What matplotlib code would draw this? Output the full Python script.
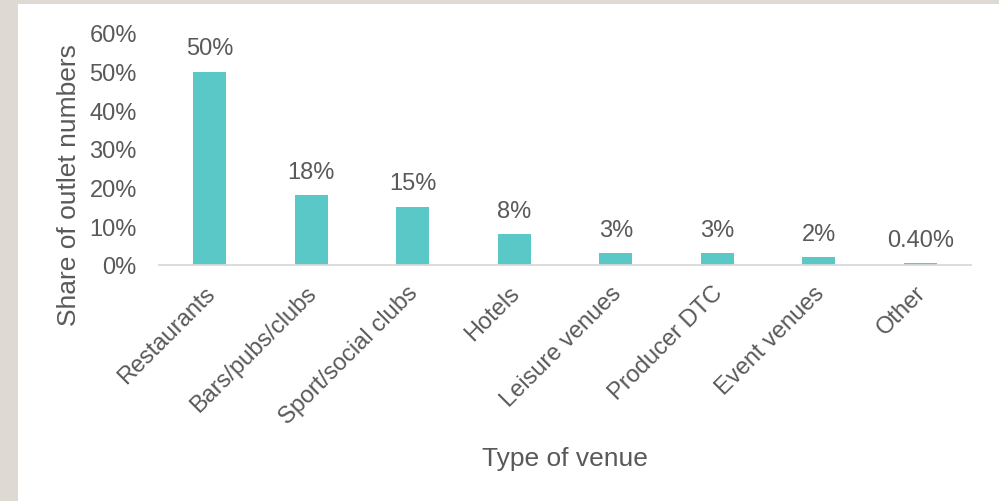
import matplotlib
matplotlib.use("Agg")
import matplotlib.pyplot as plt
from matplotlib.patches import Rectangle

plt.rcParams['font.family'] = ['Liberation Sans', 'DejaVu Sans']

venues = ["Restaurants", "Bars/pubs/clubs", "Sport/social clubs", "Hotels",
          "Leisure venues", "Producer DTC", "Event venues", "Other"]
shares = [50, 18, 15, 8, 3, 3, 2, 0.4]
share_labels = ["50%", "18%", "15%", "8%", "3%", "3%", "2%", "0.40%"]
yticks = [0, 10, 20, 30, 40, 50, 60]
ytick_labels = ["0%", "10%", "20%", "30%", "40%", "50%", "60%"]

text_color = "#595959"
bar_color = "#5BC8C8"

fig = plt.figure(figsize=(9.99, 5.02), dpi=100)
fig.patch.set_facecolor("white")
# frame strips along the left and top edges
fig.add_artist(Rectangle((0, 0), 18 / 999, 1, transform=fig.transFigure,
                         facecolor="#DEDAD3", edgecolor="none", zorder=0))
fig.add_artist(Rectangle((0, 1 - 5 / 502), 1, 5 / 502, transform=fig.transFigure,
                         facecolor="#DEDAD3", edgecolor="none", zorder=0))

ax = fig.add_axes([159 / 999, (502 - 266) / 502, 812 / 999, 232 / 502])
x = list(range(len(venues)))
ax.bar(x, shares, width=0.33, color=bar_color, zorder=2)
for xi, v, lab in zip(x, shares, share_labels):
    ax.annotate(lab, (xi, v), xytext=(0, 9), textcoords="offset points",
                ha="center", va="bottom", fontsize=17, color=text_color)

ax.set_xlim(-0.5, len(venues) - 0.5)
ax.set_ylim(0, 60)
ax.set_yticks(yticks)
ax.set_yticklabels(ytick_labels, fontsize=17, color=text_color)
ax.set_xticks(x)
ax.set_xticklabels([])
# slanted category labels hanging below each bar
for xi, name in zip(x, venues):
    ax.annotate(name, (xi, 0), xycoords=("data", "axes fraction"),
                xytext=(-4, -12), textcoords="offset points",
                rotation=45, ha="right", va="top", rotation_mode="anchor",
                fontsize=17, color=text_color, annotation_clip=False)
ax.tick_params(axis="both", length=0)
ax.tick_params(axis="y", pad=16)
for s in ["top", "right", "left"]:
    ax.spines[s].set_visible(False)
ax.spines["bottom"].set_color("#D9D9D9")
ax.spines["bottom"].set_linewidth(1.3)

ax.set_ylabel("Share of outlet numbers", fontsize=19, color=text_color)
ax.set_xlabel("Type of venue", fontsize=19, color=text_color)
ax.yaxis.set_label_coords(-0.096, 0.349)
ax.xaxis.set_label_coords(0.5, -0.78)

fig.savefig("out.png", dpi=100)
